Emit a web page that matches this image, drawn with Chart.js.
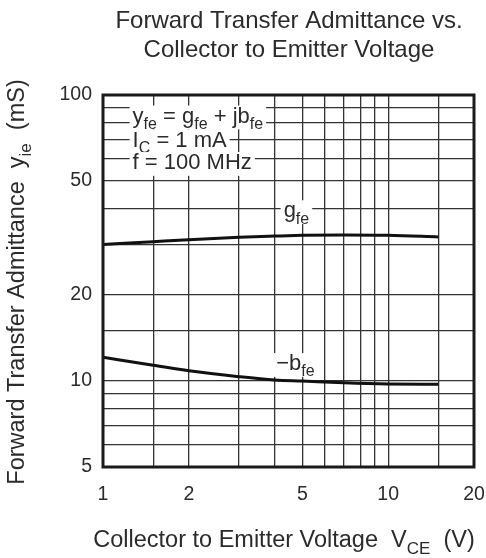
<!DOCTYPE html>
<html>
<head>
<meta charset="utf-8">
<script src="https://cdn.jsdelivr.net/npm/chart.js@4/dist/chart.umd.min.js"></script>
<style>
  html, body { margin: 0; padding: 0; background: #fff; }
  #wrap { width: 486px; height: 558px; }
</style>
</head>
<body>
<div id="wrap"><canvas id="c" width="486" height="558"></canvas></div>
<script>
// Collector-emitter voltage samples (V)
const vce = [1, 1.5, 2, 3, 4, 5, 7, 10, 15];
// Forward transfer conductance g_fe (mS)
const gfe = [30.0, 30.7, 31.2, 31.8, 32.1, 32.3, 32.4, 32.3, 31.9];
// Forward transfer susceptance -b_fe (mS)
const bfe = [12.1, 11.35, 10.85, 10.35, 10.08, 9.99, 9.85, 9.76, 9.74];

// Grid lines and labelled ticks
const xGrid = [1, 1.5, 2, 3, 4, 5, 6, 7, 8, 9, 10, 15, 20];
const xLabels = [1, 2, 5, 10, 20];
const yGrid = [5, 6, 7, 8, 9, 10, 15, 20, 30, 40, 50, 60, 70, 80, 90, 100];
const yLabels = [5, 10, 20, 50, 100];

const FONT = '"Liberation Sans", Arial, Helvetica, sans-serif';
const INK = '#2b2b2b';

// Text with subscripts: parts = [[text, isSubscript], ...]
function partsWidth(ctx, parts, size) {
  let w = 0;
  for (const [t, sub] of parts) {
    ctx.font = (sub ? Math.round(size * 0.72) : size) + 'px ' + FONT;
    w += ctx.measureText(t).width;
  }
  return w;
}
function drawParts(ctx, parts, x, y, size, align, bg) {
  const w = partsWidth(ctx, parts, size);
  let cx = align === 'center' ? x - w / 2 : x;
  if (bg) {
    ctx.fillStyle = '#fff';
    ctx.fillRect(cx - 3, y - size * 0.78, w + 6, size * 1.08);
  }
  ctx.fillStyle = INK;
  ctx.textBaseline = 'alphabetic';
  ctx.textAlign = 'left';
  for (const [t, sub] of parts) {
    ctx.font = (sub ? Math.round(size * 0.72) : size) + 'px ' + FONT;
    ctx.fillText(t, cx, sub ? y + size * 0.28 : y);
    cx += ctx.measureText(t).width;
  }
}

const titleLines = ['Forward Transfer Admittance vs.', 'Collector to Emitter Voltage'];
const xTitle = [['Collector to Emitter Voltage  V', false], ['CE', true], ['  (V)', false]];
const yTitle = [['Forward Transfer Admittance  y', false], ['ie', true], ['  (mS)', false]];
const noteLines = [
  [['y', false], ['fe', true], [' = g', false], ['fe', true], [' + jb', false], ['fe', true]],
  [['I', false], ['C', true], [' = 1 mA', false]],
  [['f = 100 MHz', false]]
];
const gLabel = [['g', false], ['fe', true]];
const bLabel = [['\u2212b', false], ['fe', true]];

const decor = {
  id: 'decor',
  afterDraw(chart) {
    const ctx = chart.ctx;
    const a = chart.chartArea;
    const xs = chart.scales.x, ys = chart.scales.y;
    ctx.save();
    // plot frame
    ctx.strokeStyle = '#1a1a1a';
    ctx.lineWidth = 3;
    ctx.strokeRect(a.left, a.top, a.right - a.left, a.bottom - a.top);

    // titles
    ctx.fillStyle = INK;
    ctx.font = '24px ' + FONT;
    ctx.textAlign = 'center';
    ctx.textBaseline = 'alphabetic';
    ctx.fillText(titleLines[0], 289, 28);
    ctx.fillText(titleLines[1], 289, 57);

    drawParts(ctx, xTitle, 284, 547, 23.5, 'center', false);

    ctx.save();
    ctx.translate(24, 282);
    ctx.rotate(-Math.PI / 2);
    drawParts(ctx, yTitle, 0, 0, 23.5, 'center', false);
    ctx.restore();

    // condition notes
    const nx = xs.getPixelForValue(1.27);
    const base = [ys.getPixelForValue(80), ys.getPixelForValue(66), ys.getPixelForValue(55)];
    noteLines.forEach((ln, i) => drawParts(ctx, ln, nx, base[i], 22, 'left', true));

    // curve labels
    drawParts(ctx, gLabel, xs.getPixelForValue(4.3), ys.getPixelForValue(37.3), 22, 'left', true);
    drawParts(ctx, bLabel, xs.getPixelForValue(4.05), ys.getPixelForValue(10.9), 22, 'left', true);
    ctx.restore();
  }
};

const pts = (ys) => vce.map((v, i) => ({ x: v, y: ys[i] }));

new Chart(document.getElementById('c'), {
  type: 'line',
  data: {
    datasets: [
      { label: 'gfe', data: pts(gfe), borderColor: '#111', borderWidth: 3, pointRadius: 0, cubicInterpolationMode: 'monotone', fill: false },
      { label: '-bfe', data: pts(bfe), borderColor: '#111', borderWidth: 3, pointRadius: 0, cubicInterpolationMode: 'monotone', fill: false }
    ]
  },
  options: {
    responsive: false,
    animation: false,
    events: [],
    layout: { padding: { left: 0, top: 95, right: 12, bottom: 0 } },
    plugins: { legend: { display: false }, title: { display: false }, tooltip: { enabled: false } },
    scales: {
      x: {
        type: 'logarithmic',
        min: 1, max: 20,
        afterBuildTicks: (s) => { s.ticks = xGrid.map(v => ({ value: v })); },
        afterFit: (s) => { s.height = 91; s.paddingLeft = 0; s.paddingRight = 0; },
        border: { display: false },
        grid: {
          drawTicks: false,
          color: '#333',
          lineWidth: (c) => (c.tick && (c.tick.value === 1 || c.tick.value === 20)) ? 0 : 1.3
        },
        ticks: {
          autoSkip: false, maxRotation: 0, padding: 16,
          color: INK, font: { family: FONT, size: 19.5 },
          callback: (v) => xLabels.includes(v) ? String(v) : ''
        }
      },
      y: {
        type: 'logarithmic',
        min: 5, max: 100,
        afterBuildTicks: (s) => { s.ticks = yGrid.map(v => ({ value: v })); },
        afterFit: (s) => { s.width = 103; s.paddingTop = 0; s.paddingBottom = 0; },
        border: { display: false },
        grid: {
          drawTicks: false,
          color: '#333',
          lineWidth: (c) => (c.tick && (c.tick.value === 5 || c.tick.value === 100)) ? 0 : 1.3
        },
        ticks: {
          autoSkip: false, padding: 11,
          color: INK, font: { family: FONT, size: 19.5 },
          callback: (v) => yLabels.includes(v) ? String(v) : ''
        }
      }
    }
  },
  plugins: [decor]
});
</script>
</body>
</html>
